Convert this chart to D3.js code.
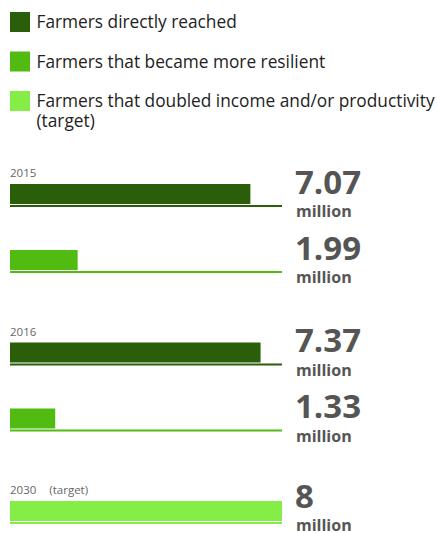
<!DOCTYPE html>
<html>
<head>
<meta charset="utf-8">
<script src="https://cdn.jsdelivr.net/npm/d3@7"></script>
<style>
  html, body { margin: 0; padding: 0; background: #fff; }
  svg { display: block; font-family: "Open Sans", "Noto Sans", sans-serif; }
</style>
</head>
<body>
<svg id="chart" width="437" height="533"></svg>
<script>
// Farmers reached, by year (millions)
const years = ["2015", "2016", "2030"];
const yearNotes = ["", "", "(target)"];
const seriesNames = [
  "Farmers directly reached",
  "Farmers that became more resilient",
  "Farmers that doubled income and/or productivity (target)"
];
const seriesColors = ["#2b5e0a", "#52bb12", "#84ee47"];
const directlyReached = [7.07, 7.37, null];
const moreResilient = [1.99, 1.33, null];
const doubledIncome = [null, null, 8];
const xDomainMax = 8;
const unitLabel = "million";

const svg = d3.select("#chart");

// ---- legend ----
const legendLines = [
  ["Farmers directly reached"],
  ["Farmers that became more resilient"],
  ["Farmers that doubled income and/or productivity", "(target)"]
];
const legendY = d3.scaleLinear().domain([0, 2]).range([12, 91]);
const legend = svg.append("g");
seriesNames.forEach((name, i) => {
  const g = legend.append("g").attr("transform", `translate(10,${legendY(i)})`);
  g.append("rect").attr("width", 20).attr("height", 20).attr("fill", seriesColors[i]);
  const t = g.append("text")
    .attr("x", 26.5).attr("y", 16.3)
    .attr("font-size", 17.3).attr("fill", "#222");
  legendLines[i].forEach((line, j) => {
    t.append("tspan").attr("x", 26.5).attr("dy", j === 0 ? 0 : 20).text(line);
  });
});

// ---- bars ----
const allSeries = [directlyReached, moreResilient, doubledIncome];
const rows = [];
years.forEach((yr, gi) => {
  let k = 0;
  allSeries.forEach((vals, si) => {
    if (vals[gi] != null) {
      rows.push({ year: yr, group: gi, series: si, slot: k, value: vals[gi] });
      k++;
    }
  });
});

const x = d3.scaleLinear().domain([0, xDomainMax]).range([10, 282]);
const groupY = d3.scalePoint().domain(years).range([184, 501]);
const rowPitch = 66;
const barH = 20;
const rowTop = d => groupY(d.year) + d.slot * rowPitch;

const rowG = svg.append("g").selectAll("g").data(rows).join("g")
  .attr("transform", d => `translate(0,${rowTop(d)})`);

rowG.append("rect")
  .attr("x", x(0)).attr("y", 0)
  .attr("width", d => x(d.value) - x(0))
  .attr("height", barH)
  .attr("fill", d => seriesColors[d.series]);

rowG.append("rect")
  .attr("x", x(0)).attr("y", barH + 1)
  .attr("width", x(xDomainMax) - x(0))
  .attr("height", 2)
  .attr("fill", d => seriesColors[d.series]);

const fmt = v => (Number.isInteger(v) ? String(v) : v.toFixed(2));
const numOffset = d => (d.group === 2 ? 6.5 : 9.5);

rowG.append("text")
  .attr("x", 295).attr("y", numOffset)
  .attr("font-size", 33).attr("font-weight", 700).attr("fill", "#555")
  .text(d => fmt(d.value));

rowG.append("text")
  .attr("x", 296).attr("y", d => numOffset(d) + 23.5)
  .attr("font-size", 16).attr("font-weight", 700).attr("fill", "#555")
  .text(unitLabel);

// ---- year labels ----
const yearG = svg.append("g").selectAll("text").data(years).join("text")
  .attr("x", 10).attr("y", d => groupY(d) - 7)
  .attr("font-size", 11.5).attr("fill", "#666");
yearG.append("tspan").text(d => d);
yearG.append("tspan").attr("dx", 13).text((d, i) => yearNotes[i]);
</script>
</body>
</html>
